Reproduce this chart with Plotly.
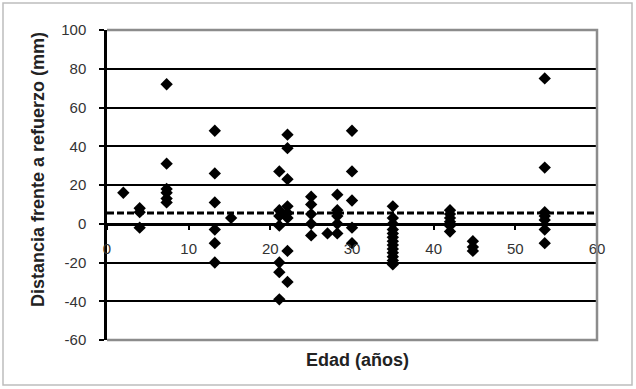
import plotly.graph_objects as go

# ---- data ----
edad_2 = [2]
dist_2 = [16]
edad_4 = [4, 4, 4]
dist_4 = [8, 6, -2]
edad_7 = [7.3] * 6
dist_7 = [72, 31, 18, 16, 13, 11]
edad_13 = [13.2] * 6
dist_13 = [48, 26, 11, -3, -10, -20]
edad_15 = [15.2]
dist_15 = [3]
edad_21 = [21.1] * 7
dist_21 = [27, 7, 4, -1, -20, -25, -39]
edad_22 = [22.1] * 8
dist_22 = [46, 39, 23, 9, 5.5, 3, -14, -30]
edad_25 = [25] * 5
dist_25 = [14, 10, 5, 0, -6]
edad_27 = [27]
dist_27 = [-5]
edad_28 = [28.2] * 5
dist_28 = [15, 7, 4, 0, -5]
edad_30 = [30] * 5
dist_30 = [48, 27, 12, -2, -10]
edad_35 = [35] * 13
dist_35 = [9, 3, 0, -3, -5, -7, -9, -11, -13, -15, -17, -19, -21]
edad_42 = [42] * 6
dist_42 = [7, 5, 3, 1, -1, -4]
edad_45 = [44.8] * 3
dist_45 = [-9, -12, -14]
edad_54 = [53.6] * 7
dist_54 = [75, 29, 6, 4, 2, -3, -10]

edad = (edad_2 + edad_4 + edad_7 + edad_13 + edad_15 + edad_21 + edad_22 + edad_25
        + edad_27 + edad_28 + edad_30 + edad_35 + edad_42 + edad_45 + edad_54)
distancia = (dist_2 + dist_4 + dist_7 + dist_13 + dist_15 + dist_21 + dist_22 + dist_25
             + dist_27 + dist_28 + dist_30 + dist_35 + dist_42 + dist_45 + dist_54)

media = 5.5
x_rango = [0, 60]
y_rango = [-60, 100]
x_ticks = [0, 10, 20, 30, 40, 50, 60]
x_ticktext = ["0", "10", "20", "30", "40", "50", "60"]
y_ticks = [-60, -40, -20, 0, 20, 40, 60, 80, 100]
y_ticktext = ["-60", "-40", "-20", "0", "20", "40", "60", "80", "100"]

titulo_x = "Edad (años)"
titulo_y = "Distancia frente a refuerzo (mm)"

# ---- layout geometry ----
W, H = 636, 389
ml, mr, mt, mb = 107, 39, 30, 49
pw, ph = W - ml - mr, H - mt - mb

fig = go.Figure()
fig.add_trace(go.Scatter(
    x=x_rango, y=[media, media], mode="lines",
    line=dict(color="black", width=3, dash="7px,3px"),
    hoverinfo="skip", showlegend=False))
fig.add_trace(go.Scatter(
    x=edad, y=distancia, mode="markers",
    marker=dict(symbol="diamond", size=9.5, color="black"),
    showlegend=False))

font_family = "Liberation Sans, Arial, sans-serif"
y0_pos = (0 - y_rango[0]) / (y_rango[1] - y_rango[0])

fig.update_layout(
    width=W, height=H,
    margin=dict(l=ml, r=mr, t=mt, b=mb, autoexpand=False),
    paper_bgcolor="white", plot_bgcolor="white",
    font=dict(family=font_family, size=15, color="#333333"),
    xaxis=dict(
        range=x_rango, tickvals=x_ticks, ticktext=x_ticktext,
        anchor="free", position=y0_pos,
        showline=True, linecolor="black", linewidth=2.5,
        ticks="outside", ticklen=4, tickwidth=2, tickcolor="black",
        ticklabelstandoff=6,
        showgrid=False, zeroline=False,
        tickfont=dict(size=15, color="#333333"),
    ),
    yaxis=dict(
        range=y_rango, tickvals=y_ticks, ticktext=y_ticktext,
        showline=True, linecolor="black", linewidth=2.5,
        ticks="outside", ticklen=5, tickwidth=2, tickcolor="black",
        ticklabelstandoff=10,
        showgrid=True, gridcolor="black", gridwidth=2,
        zeroline=False,
        tickfont=dict(size=15, color="#333333"),
    ),
    shapes=[
        dict(type="path", xref="paper", yref="paper",
             path="M 0,1 L 1,1 L 1,0 L 0,0",
             line=dict(color="#8c8c8c", width=2.5), layer="above"),
        dict(type="rect", xref="paper", yref="paper",
             x0=(3 - ml) / pw, x1=(632 - ml) / pw,
             y0=(H - mb - 385) / ph, y1=(H - mb - 3) / ph,
             line=dict(color="#bdbdbd", width=1.5), layer="below"),
    ],
    annotations=[
        dict(text="<b>" + titulo_x + "</b>", xref="paper", yref="paper",
             x=(357 - ml) / pw, y=-(360 - (H - mb)) / ph,
             xanchor="center", yanchor="middle", showarrow=False,
             font=dict(size=18, color="#222222")),
        dict(text="<b>" + titulo_y + "</b>", xref="paper", yref="paper",
             x=(38 - ml) / pw, y=(H - mb - 170) / ph, textangle=-90,
             xanchor="center", yanchor="middle", showarrow=False,
             font=dict(size=18, color="#222222")),
    ],
)

fig.write_html("out.html",
               config={"displayModeBar": False},
               post_script="document.body.style.margin='0';document.body.style.padding='0';")
